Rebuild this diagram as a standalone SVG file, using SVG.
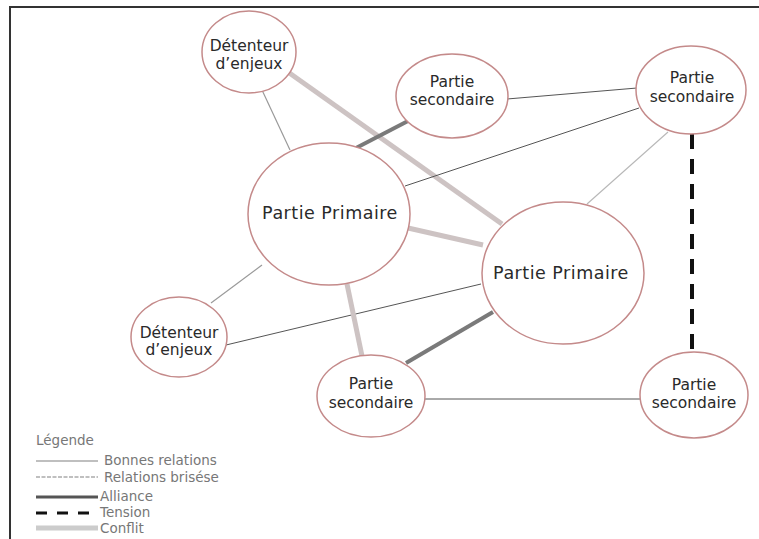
<svg xmlns="http://www.w3.org/2000/svg" width="759" height="539" viewBox="0 0 759 539">
<style>
.node ellipse{fill:#fff;stroke:#c48a8a;stroke-width:1.5}
.node text{font-family:"DejaVu Sans",sans-serif;font-size:15.5px;fill:#2a2a2a;text-anchor:middle}
.node text.big{font-size:17.5px;letter-spacing:0.5px}
.good{stroke:#9a9a9a;stroke-width:1.2;fill:none}
.thin{stroke:#555;stroke-width:1;fill:none}
.light{stroke:#b8b8b8;stroke-width:1.2;fill:none}
.alliance{stroke:#7a7a7a;stroke-width:4;fill:none}
.conflict{stroke:#cdc3c3;stroke-width:5;fill:none}
.tension{stroke:#111;stroke-width:4;stroke-dasharray:15 10;fill:none}
.leg{font-family:"DejaVu Sans",sans-serif;font-size:13.5px;fill:#777}
</style>
<rect width="759" height="539" fill="#fff"/>
<g id="frame" stroke="#333" stroke-width="2" fill="none">
<path d="M10 539 V7 H759"/>
</g>
<g id="connectors">
<line class="good" x1="262" y1="90" x2="290" y2="150"/>
<line class="conflict" x1="288" y1="72" x2="502" y2="224"/>
<line class="thin" x1="507" y1="99" x2="637" y2="88"/>
<line class="alliance" x1="408" y1="121" x2="356" y2="148"/>
<line class="thin" x1="405" y1="186" x2="639" y2="108"/>
<line class="light" x1="587" y1="204" x2="668" y2="132"/>
<line class="conflict" x1="408" y1="228" x2="483" y2="245"/>
<line class="good" x1="262" y1="265" x2="211" y2="303"/>
<line class="thin" x1="226" y1="345" x2="481" y2="284"/>
<line class="conflict" x1="347" y1="284" x2="362" y2="356"/>
<line class="alliance" x1="493" y1="312" x2="406" y2="363"/>
<line class="thin" x1="425" y1="399" x2="640" y2="399"/>
<line class="tension" x1="692" y1="134" x2="692" y2="352"/>
</g>
<g id="n1" class="node"><ellipse cx="249" cy="52" rx="47" ry="41"/><text x="249" y="51">Détenteur</text><text x="249" y="69">d’enjeux</text></g>
<g id="n2" class="node"><ellipse cx="452" cy="96" rx="56" ry="42"/><text x="452" y="87">Partie</text><text x="452" y="105">secondaire</text></g>
<g id="n3" class="node"><ellipse cx="691" cy="90" rx="55" ry="44"/><text x="692" y="83">Partie</text><text x="692" y="102">secondaire</text></g>
<g id="n4" class="node"><ellipse cx="329" cy="214" rx="81" ry="71"/><text class="big" x="330" y="219">Partie Primaire</text></g>
<g id="n5" class="node"><ellipse cx="563" cy="273" rx="81" ry="71"/><text class="big" x="561" y="279">Partie Primaire</text></g>
<g id="n6" class="node"><ellipse cx="179" cy="337" rx="48" ry="40"/><text x="179" y="338">Détenteur</text><text x="179" y="355">d’enjeux</text></g>
<g id="n7" class="node"><ellipse cx="371" cy="396" rx="54" ry="41"/><text x="371" y="389">Partie</text><text x="371" y="408">secondaire</text></g>
<g id="n8" class="node"><ellipse cx="694" cy="395" rx="54" ry="43"/><text x="694" y="390">Partie</text><text x="694" y="408">secondaire</text></g>
<g id="legend">
<text class="leg" x="36" y="445">Légende</text>
<line x1="36" y1="461" x2="98" y2="461" stroke="#aaa" stroke-width="1.5"/>
<text class="leg" x="104" y="465">Bonnes relations</text>
<line x1="36" y1="477" x2="98" y2="477" stroke="#aaa" stroke-width="1.5" stroke-dasharray="4 1.5"/>
<text class="leg" x="104" y="482">Relations brisése</text>
<line x1="36" y1="497" x2="98" y2="497" stroke="#555" stroke-width="3"/>
<text class="leg" x="100" y="501">Alliance</text>
<line x1="36" y1="513" x2="98" y2="513" stroke="#111" stroke-width="3" stroke-dasharray="11 10"/>
<text class="leg" x="100" y="517">Tension</text>
<line x1="36" y1="528" x2="98" y2="528" stroke="#ccc" stroke-width="5"/>
<text class="leg" x="100" y="533">Conflit</text>
</g>
</svg>
